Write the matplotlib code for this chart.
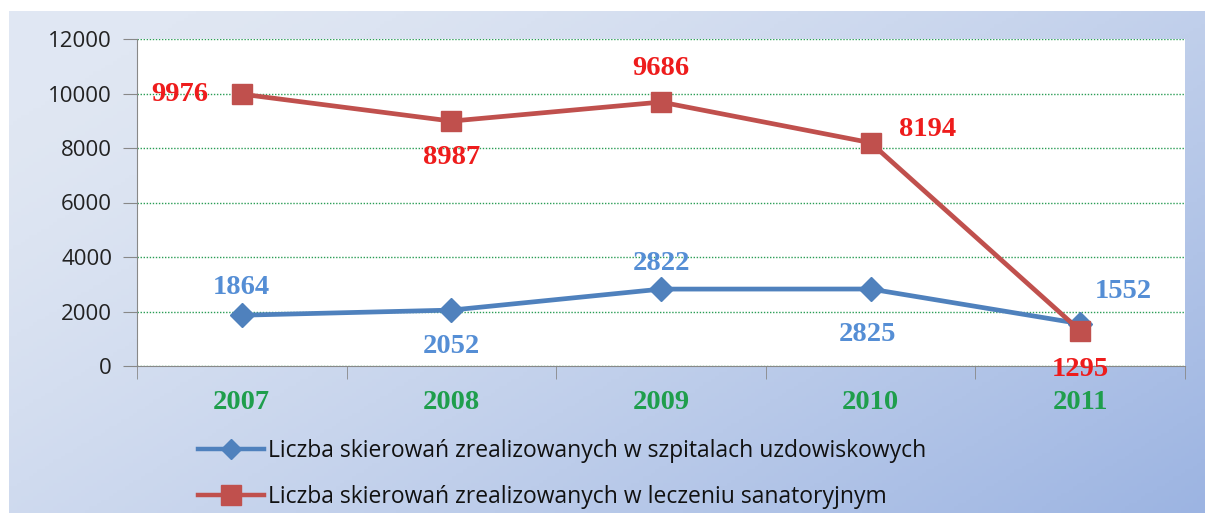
import numpy as np
import matplotlib.pyplot as plt
from matplotlib.lines import Line2D

# data
years = ["2007", "2008", "2009", "2010", "2011"]
szpitale = [1864, 2052, 2822, 2825, 1552]
sanatoria = [9976, 8987, 9686, 8194, 1295]
label_szpitale = "Liczba skierowań zrealizowanych w szpitalach uzdowiskowych"
label_sanatoria = "Liczba skierowań zrealizowanych w leczeniu sanatoryjnym"

BLUE = "#4f81bd"
RED = "#c0504d"
BLUE_TXT = "#558ed5"
RED_TXT = "#ee1c1c"
GREEN = "#1f9e4c"

fig = plt.figure(figsize=(12.05, 5.15), dpi=100)

# gradient background panel
bg = fig.add_axes([9 / 1205, 2 / 515, 1 - 9 / 1205, 502 / 515], zorder=0)
xx, yy = np.meshgrid(np.linspace(0, 1, 300), np.linspace(0, 1, 150))
t = np.clip(0.65 * xx + 0.45 * yy - 0.1, 0, 1) ** 1.3
c0 = np.array([0xe0, 0xe7, 0xf3]) / 255
c1 = np.array([0x9c, 0xb4, 0xe2]) / 255
img = c0[None, None, :] * (1 - t[..., None]) + c1[None, None, :] * t[..., None]
bg.imshow(img, aspect="auto", extent=[0, 1, 0, 1])
bg.axis("off")

ax = fig.add_axes([137 / 1205, 149 / 515, 1048 / 1205, 327 / 515], zorder=1)
ax.set_facecolor("white")
x = np.arange(len(years))

ax.plot(x, szpitale, color=BLUE, lw=3.4, marker="D", ms=12, zorder=3)
ax.plot(x, sanatoria, color=RED, lw=3.4, marker="s", ms=15, zorder=3)

# data labels (offsets in pixels)
blue_off = [(0, 28), (0, -36), (0, 26), (-3, -45), (43, 32)]
red_off = [(-62, 0), (0, -36), (0, 34), (57, 13), (0, -39)]
for i in range(len(years)):
    ax.annotate(str(szpitale[i]), (x[i], szpitale[i]), xytext=blue_off[i],
                textcoords="offset pixels", ha="center", va="center",
                color=BLUE_TXT, fontsize=20.5, fontweight="bold",
                family="Liberation Serif", zorder=5)
    ax.annotate(str(sanatoria[i]), (x[i], sanatoria[i]), xytext=red_off[i],
                textcoords="offset pixels", ha="center", va="center",
                color=RED_TXT, fontsize=20.5, fontweight="bold",
                family="Liberation Serif", zorder=5)

ax.set_xlim(-0.5, len(years) - 0.5)
ax.set_ylim(0, 12000)
ax.set_yticks(range(0, 12001, 2000))
ax.set_yticklabels([str(v) for v in range(0, 12001, 2000)], fontsize=16,
                   family="Open Sans", color="#222222")
ax.yaxis.grid(True, color="#2a9d55", linestyle=(0, (1, 1.2)), lw=1)
ax.set_axisbelow(True)

ax.set_xticks(x)
ax.set_xticklabels(years, fontsize=20.5, fontweight="bold",
                   family="Liberation Serif", color=GREEN)
ax.set_xticks(np.arange(-0.5, len(years)), minor=True)
ax.tick_params(axis="x", which="major", length=0, pad=17)
ax.tick_params(axis="x", which="minor", length=9, color="#888888", direction="out")
ax.tick_params(axis="y", length=10, color="#888888", pad=8)

for s in ["top", "right"]:
    ax.spines[s].set_visible(False)
ax.spines["left"].set_color("#888888")
ax.spines["bottom"].set_color("#888888")

handles = [
    Line2D([], [], color=BLUE, lw=3.2, marker="D", ms=10),
    Line2D([], [], color=RED, lw=3.2, marker="s", ms=14),
]
leg = fig.legend(handles, [label_szpitale, label_sanatoria],
                 loc="upper left", bbox_to_anchor=(198 / 1205, 1 - 439 / 515),
                 frameon=False, handlelength=2.9, handletextpad=0.15,
                 labelspacing=0.95, borderaxespad=0, borderpad=0,
                 prop={"family": "Open Sans", "size": 16.5})
for txt in leg.get_texts():
    txt.set_color("#111111")

fig.savefig("out.png", dpi=100)
